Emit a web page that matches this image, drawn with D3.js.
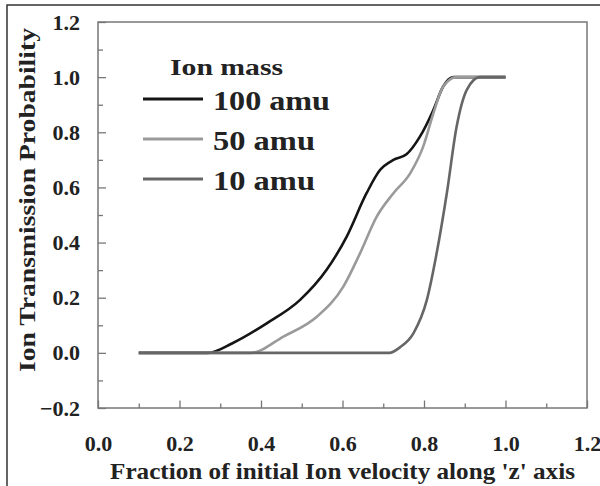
<!DOCTYPE html>
<html lang="en">
<head>
    <meta charset="UTF-8">
    <title>Ion Transmission Probability</title>
    <script src="https://d3js.org/d3.v7.min.js"></script>
    <style>
        body { margin: 0; background: #fff; }
    </style>
</head>
<body>

    <script>
        // Data
        const xTicksMajor = [0.0, 0.2, 0.4, 0.6, 0.8, 1.0, 1.2];
        const yTicksMajor = [-0.2, 0.0, 0.2, 0.4, 0.6, 0.8, 1.0, 1.2];
        const seriesNames = ['100 amu', '50 amu', '10 amu'];
        const seriesColors = ['#151515', '#9a9a9a', '#666666'];

        const amu100 = [
            [0.10, 0.0], [0.20, 0.0], [0.27, 0.0], [0.33, 0.035], [0.414, 0.107],
            [0.496, 0.192], [0.561, 0.301], [0.610, 0.421], [0.659, 0.579],
            [0.692, 0.663], [0.725, 0.700], [0.757, 0.720], [0.790, 0.784],
            [0.823, 0.881], [0.847, 0.966], [0.872, 1.0], [0.95, 1.0], [1.0, 1.0]
        ];
        const amu50 = [
            [0.10, 0.0], [0.30, 0.0], [0.375, 0.0], [0.455, 0.059], [0.537, 0.131],
            [0.602, 0.240], [0.643, 0.361], [0.684, 0.494], [0.725, 0.579],
            [0.766, 0.651], [0.798, 0.748], [0.823, 0.869], [0.847, 0.966],
            [0.880, 1.0], [0.95, 1.0], [1.0, 1.0]
        ];
        const amu10 = [
            [0.10, 0.0], [0.50, 0.0], [0.715, 0.0], [0.741, 0.02], [0.774, 0.071],
            [0.807, 0.192], [0.831, 0.361], [0.856, 0.579], [0.880, 0.820],
            [0.905, 0.954], [0.937, 1.0], [0.97, 1.0], [1.0, 1.0]
        ];
        const seriesData = [amu100, amu50, amu10];

        const FONT = 'Liberation Serif';
        const W = 600, H = 486;
        const plot = { left: 98, top: 22, right: 587, bottom: 408 };

        const svg = d3.select('body')
            .append('svg')
            .attr('width', W)
            .attr('height', H)
            .attr('font-family', FONT)
            .attr('font-weight', 'bold');

        // outer frame of the figure
        svg.append('path')
            .attr('d', 'M7,' + (H + 2) + ' L7,5 L' + (W + 2) + ',5')
            .attr('fill', 'none')
            .attr('stroke', '#333')
            .attr('stroke-width', 1.5);

        const x = d3.scaleLinear().domain([0, 1.2]).range([plot.left, plot.right]);
        const y = d3.scaleLinear().domain([-0.2, 1.2]).range([plot.bottom, plot.top]);

        // plot box
        svg.append('rect')
            .attr('x', plot.left)
            .attr('y', plot.top)
            .attr('width', plot.right - plot.left)
            .attr('height', plot.bottom - plot.top)
            .attr('fill', 'none')
            .attr('stroke', '#777')
            .attr('stroke-width', 1.5);

        // minor ticks
        svg.append('g')
            .attr('transform', 'translate(0,' + plot.bottom + ')')
            .call(d3.axisBottom(x).tickValues(d3.range(0.1, 1.2, 0.2)).tickSize(-4.5).tickFormat(''))
            .call(g => g.select('.domain').remove());
        svg.append('g')
            .attr('transform', 'translate(' + plot.left + ',0)')
            .call(d3.axisLeft(y).tickValues(d3.range(-0.1, 1.2, 0.2)).tickSize(-5).tickFormat(''))
            .call(g => g.select('.domain').remove());

        // major ticks + labels
        const xAxis = svg.append('g')
            .attr('transform', 'translate(0,' + plot.bottom + ')')
            .call(d3.axisBottom(x).tickValues(xTicksMajor).tickSize(-7.5).tickPadding(27).tickFormat(d3.format('.1f')));
        const yAxis = svg.append('g')
            .attr('transform', 'translate(' + plot.left + ',0)')
            .call(d3.axisLeft(y).tickValues(yTicksMajor).tickSize(-8).tickPadding(18).tickFormat(d3.format('.1f')));

        [xAxis, yAxis].forEach(ax => {
            ax.attr('font-family', FONT).attr('font-size', 22);
            ax.select('.domain').remove();
            ax.selectAll('text').attr('fill', '#222');
        });
        svg.selectAll('.tick line').attr('stroke', '#777').attr('stroke-width', 1.3);

        // curves
        const line = d3.line()
            .x(d => x(d[0]))
            .y(d => y(d[1]))
            .curve(d3.curveMonotoneX);

        seriesData.forEach((s, i) => {
            svg.append('path')
                .datum(s)
                .attr('d', line)
                .attr('fill', 'none')
                .attr('stroke', seriesColors[i])
                .attr('stroke-width', 2.6);
        });

        // legend (the source text is a little wider than the font, so stretch it)
        svg.append('text')
            .attr('x', 170)
            .attr('y', 75)
            .attr('fill', '#222')
            .attr('font-size', 24)
            .attr('textLength', 113)
            .attr('lengthAdjust', 'spacingAndGlyphs')
            .text('Ion mass');

        const legendWidths = [117, 102, 102];
        seriesNames.forEach((name, i) => {
            const ly = 99 + i * 40;
            svg.append('line')
                .attr('x1', 143).attr('x2', 203)
                .attr('y1', ly).attr('y2', ly)
                .attr('stroke', seriesColors[i])
                .attr('stroke-width', 3);
            svg.append('text')
                .attr('x', 213)
                .attr('y', ly + 11)
                .attr('fill', '#222')
                .attr('font-size', 28)
                .attr('textLength', legendWidths[i])
                .attr('lengthAdjust', 'spacingAndGlyphs')
                .text(name);
        });

        // axis titles
        svg.append('text')
            .attr('x', 110)
            .attr('y', 479)
            .attr('fill', '#222')
            .attr('font-size', 23)
            .attr('textLength', 465)
            .attr('lengthAdjust', 'spacingAndGlyphs')
            .text("Fraction of initial Ion velocity along 'z' axis");

        svg.append('text')
            .attr('transform', 'translate(35,372) rotate(-90)')
            .attr('fill', '#222')
            .attr('font-size', 23)
            .attr('textLength', 344)
            .attr('lengthAdjust', 'spacingAndGlyphs')
            .text('Ion Transmission Probability');
    </script>

</body>
</html>
